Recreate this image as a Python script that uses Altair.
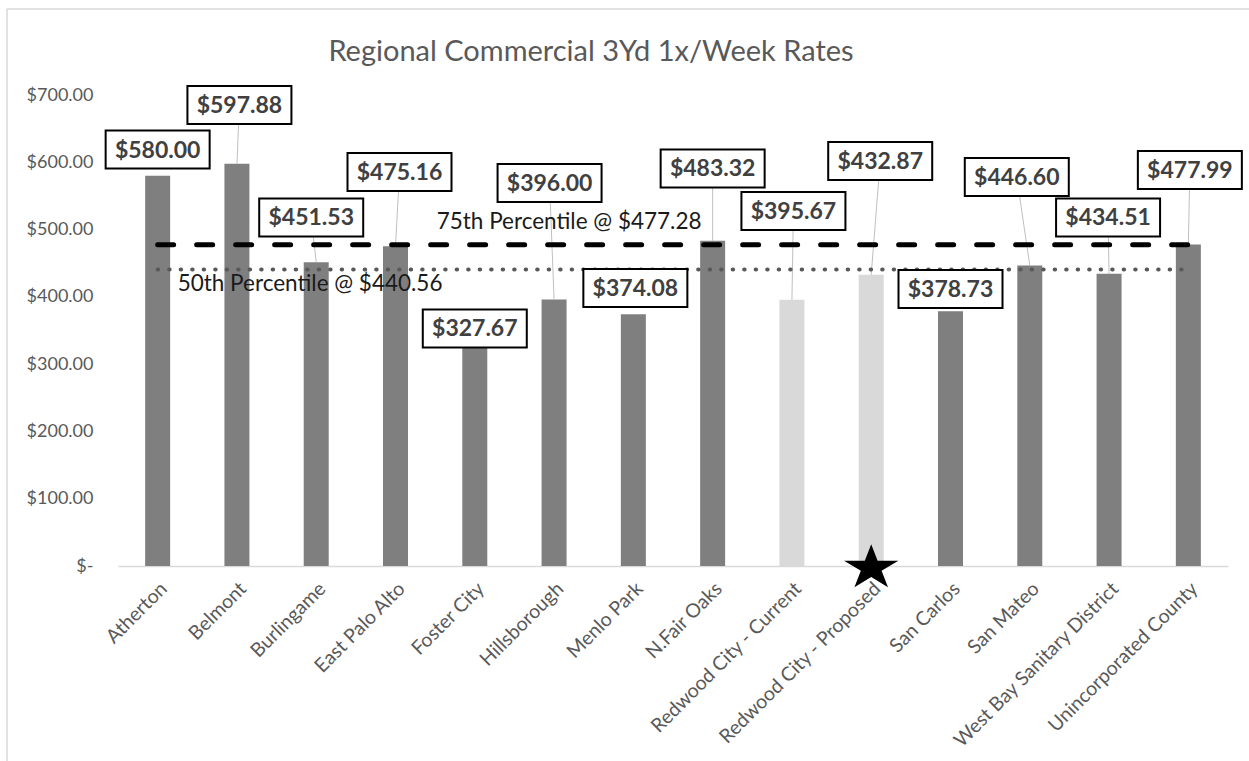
import altair as alt
import pandas as pd

# ---------------- data ----------------
categories = [
    "Atherton", "Belmont", "Burlingame", "East Palo Alto", "Foster City",
    "Hillsborough", "Menlo Park", "N.Fair Oaks", "Redwood City - Current",
    "Redwood City - Proposed", "San Carlos", "San Mateo",
    "West Bay Sanitary District", "Unincorporated County",
]
rates = [580.00, 597.88, 451.53, 475.16, 327.67, 396.00, 374.08, 483.32,
         395.67, 432.87, 378.73, 446.60, 434.51, 477.99]
groups = ["Other"] * 8 + ["Redwood City"] * 2 + ["Other"] * 4
y_ticks = [0, 100, 200, 300, 400, 500, 600, 700]
p75 = 477.28
p50 = 440.56
star_category = "Redwood City - Proposed"
title_text = "Regional Commercial 3Yd 1x/Week Rates"

# data-label callout placement (value units for the box centre, px nudge)
label_anchor = [618.9, 685.1, 518.0, 585.5, 353.0, 569.2, 413.2, 590.8,
                527.6, 601.9, 411.6, 578.1, 518.0, 588.5]
label_dx = [0, 2.5, -5, 4, 0, -4.5, 2, 0, 1.5, 9, 0, -13, -1, 1.5]

# ---------------- layout / style ----------------
W, H = 1110, 471
PAD = {"left": 118, "top": 95, "right": 21, "bottom": 195}
PX_PER_UNIT = H / 700.0
HALF_BAND = W / len(categories) / 2.0
BOX_W, BOX_H = 104, 38
FONT = "Lato"

bars_df = pd.DataFrame({"cat": categories, "rate": rates, "grp": groups})
labels_df = pd.DataFrame({
    "cat": categories,
    "ly": label_anchor,
    "dx": [d + HALF_BAND for d in label_dx],
    "txt": [f"${v:,.2f}" for v in rates],
})

leader_rows = []
for c, v, ly, dx in zip(categories, rates, label_anchor, label_dx):
    gap = (ly - v) * PX_PER_UNIT - BOX_H / 2
    if gap > 10:
        leader_rows.append({"cat": c, "y": ly, "dx": dx + HALF_BAND, "dy": BOX_H / 2})
        leader_rows.append({"cat": c, "y": v, "dx": HALF_BAND, "dy": 0})
leader_df = pd.DataFrame(leader_rows)

pct_df = pd.DataFrame({
    "cat": [categories[0], categories[-1], categories[0], categories[-1]],
    "y": [p75, p75, p50, p50],
    "kind": ["p75", "p75", "p50", "p50"],
})
pct_text_df = pd.DataFrame({
    "cat": ["Hillsborough", "Atherton"],
    "y": [p75, p50],
    "txt": [f"75th Percentile @ ${p75:,.2f}", f"50th Percentile @ ${p50:,.2f}"],
})
star_df = pd.DataFrame({"cat": [star_category], "y": [0]})
one = pd.DataFrame({"a": [0]})
title_df = pd.DataFrame({"t": [title_text]})


def X(field="cat"):
    return alt.X(
        f"{field}:N", sort=categories, title=None,
        scale=alt.Scale(paddingInner=0.0, paddingOuter=0.0),
        axis=alt.Axis(labelAngle=-45, labelColor="#595959", labelFont=FONT,
                      labelFontSize=19.5, ticks=False, domainColor="#d9d9d9",
                      domainWidth=1.5, labelPadding=13, grid=False,
                      labelLimit=0),
    )


def Y(field):
    return alt.Y(
        f"{field}:Q", title=None,
        scale=alt.Scale(domain=[0, 700], nice=False),
        axis=alt.Axis(values=y_ticks, domain=False, ticks=False, grid=False,
                      labelColor="#595959", labelFont=FONT, labelFontSize=18,
                      labelPadding=25,
                      labelExpr="datum.value == 0 ? '$-\u00a0\u00a0' : '$' + format(datum.value, ',.2f')"),
    )


bars = alt.Chart(bars_df).mark_bar(size=25).encode(
    x=X(), y=Y("rate"),
    color=alt.Color("grp:N", scale=alt.Scale(domain=["Other", "Redwood City"],
                                             range=["#7f7f7f", "#d9d9d9"]),
                    legend=None),
)

leaders = alt.Chart(leader_df).mark_line(color="#bfbfbf", strokeWidth=1).encode(
    x=X(), y=Y("y"),
    xOffset=alt.XOffset("dx:Q", scale=None),
    yOffset=alt.YOffset("dy:Q", scale=None),
    detail="cat:N",
)

p75_line = alt.Chart(pct_df[pct_df.kind == "p75"]).mark_line(
    color="black", strokeWidth=5, strokeDash=[16, 23], strokeCap="round"
).encode(x=X(), y=Y("y"))

p50_line = alt.Chart(pct_df[pct_df.kind == "p50"]).mark_line(
    color="#595959", strokeWidth=4, strokeDash=[0.5, 11], strokeCap="round"
).encode(x=X(), y=Y("y"))

p75_text = alt.Chart(pct_text_df.iloc[[0]]).mark_text(
    font=FONT, fontSize=22.5, color="#1a1a1a", align="center", baseline="middle",
    dx=15, dy=-23,
).encode(x=X(), y=Y("y"), text="txt:N")

p50_text = alt.Chart(pct_text_df.iloc[[1]]).mark_text(
    font=FONT, fontSize=22.5, color="#1a1a1a", align="left", baseline="middle",
    dx=20, dy=14,
).encode(x=X(), y=Y("y"), text="txt:N")

box_path = "M-1,-{h}H1V{h}H-1Z".format(h=round(BOX_H / BOX_W, 4))
boxes = alt.Chart(labels_df).mark_point(
    shape=box_path, size=BOX_W ** 2, filled=True, fill="white", stroke="black",
    strokeWidth=2, opacity=1, fillOpacity=1, strokeOpacity=1,
).encode(x=X(), y=Y("ly"), xOffset=alt.XOffset("dx:Q", scale=None))

box_text = alt.Chart(labels_df).mark_text(
    font=FONT, fontSize=23, fontWeight="bold", color="#404040",
    align="center", baseline="middle", dy=1,
).encode(x=X(), y=Y("ly"), xOffset=alt.XOffset("dx:Q", scale=None), text="txt:N")

star_path = ("M0,-1L0.269,-0.309L1.141,-0.309L0.436,0.118L0.706,0.809L0,0.382"
             "L-0.706,0.809L-0.436,0.118L-1.141,-0.309L-0.269,-0.309Z")
star = alt.Chart(star_df).mark_point(
    shape=star_path, size=2266, filled=True, color="black", opacity=1
).encode(x=X(), y=Y("y"), yOffset=alt.value(2))

border_top = alt.Chart(one).mark_rule(color="#d9d9d9", strokeWidth=1.5).encode(
    x=alt.value(-111), x2=alt.value(1131), y=alt.value(-86))
border_left = alt.Chart(one).mark_rule(color="#d9d9d9", strokeWidth=1.5).encode(
    x=alt.value(-111), y=alt.value(-86), y2=alt.value(666))

title = alt.Chart(title_df).mark_text(
    font=FONT, fontSize=29, color="#595959", align="center", baseline="middle"
).encode(x=alt.value(591 - 118), y=alt.value(52 - 95), text="t:N")

chart = alt.layer(
    border_top, border_left, title, bars, leaders, p50_line, p75_line,
    p75_text, p50_text, boxes, box_text, star,
).properties(
    width=W, height=H,
    padding=PAD,
    autosize=alt.AutoSizeParams(type="none"),
).configure(background="white").configure_view(strokeWidth=0, stroke="transparent")

chart.save("out.html", embed_options={"renderer": "svg", "actions": False})
